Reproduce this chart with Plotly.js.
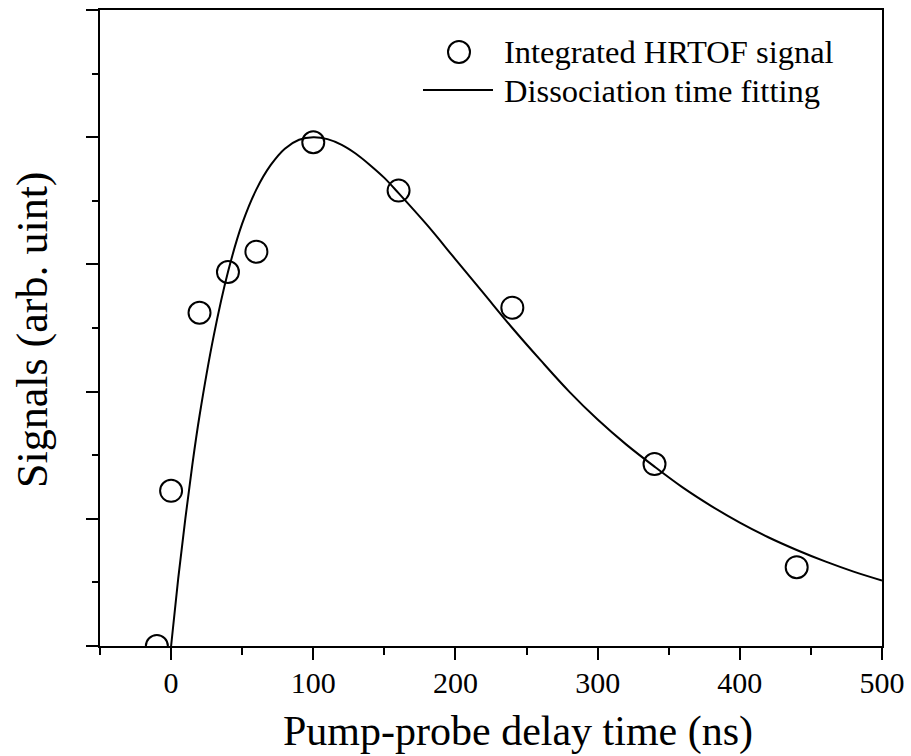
<!DOCTYPE html>
<html>
<head>
<meta charset="utf-8">
<script src="https://cdn.plot.ly/plotly-3.0.1.min.js"></script>
<style>
  html, body { margin: 0; padding: 0; background: #fff; }
  #chart { width: 911px; height: 756px; }
</style>
</head>
<body>
<div id="chart"></div>
<script>
// Measured data: integrated HRTOF signal
const delayTime = [-10, 0, 20, 40, 60, 100, 160, 240, 340, 440];
const signal    = [0.00, 1.22, 2.62, 2.94, 3.10, 3.96, 3.58, 2.66, 1.43, 0.62];

// Dissociation time fitting curve
const fitTime   = [0, 5, 10, 15, 20, 30, 40, 50, 60, 70, 80, 90, 100, 110, 120, 130, 140, 150, 160, 180, 200, 220, 240, 260, 280, 300, 320, 340, 360, 380, 400, 420, 440, 460, 480, 500];
const fitSignal = [0.00, 0.53, 1.00, 1.43, 1.81, 2.44, 2.94, 3.32, 3.59, 3.78, 3.91, 3.98, 4.00, 3.985, 3.94, 3.87, 3.78, 3.68, 3.56, 3.31, 3.04, 2.77, 2.50, 2.245, 2.00, 1.78, 1.585, 1.41, 1.245, 1.10, 0.97, 0.855, 0.755, 0.665, 0.585, 0.515];

const xTickVals = [0, 100, 200, 300, 400, 500];
const xTickText = ['0', '100', '200', '300', '400', '500'];

const seriesNames = ['Integrated HRTOF signal', 'Dissociation time fitting'];
const xTitle = 'Pump-probe delay time (ns)';
const yTitle = 'Signals (arb. uint)';

const FONT = 'Liberation Serif, Times New Roman, serif';

// plot-area geometry in pixels (for placing legend / titles in paper coords)
const PL = 100, PR = 882, PT = 10, PB = 646;
const px = v => (v - PL) / (PR - PL);
const py = v => (PB - v) / (PB - PT);

const traces = [
  {
    x: delayTime, y: signal, type: 'scatter', mode: 'markers',
    name: seriesNames[0], showlegend: false,
    marker: { symbol: 'circle-open', size: 22, color: '#000', line: { width: 2, color: '#000' } }
  },
  {
    x: fitTime, y: fitSignal, type: 'scatter', mode: 'lines',
    name: seriesNames[1], showlegend: false,
    line: { color: '#000', width: 2, shape: 'spline', smoothing: 1 }
  }
];

const layout = {
  width: 911, height: 756,
  margin: { l: 100, r: 29, t: 10, b: 110 },
  paper_bgcolor: '#fff', plot_bgcolor: '#fff',
  font: { family: FONT, color: '#000', size: 30 },
  showlegend: false,
  xaxis: {
    range: [-50, 500], tickmode: 'array', tickvals: xTickVals, ticktext: xTickText,
    ticks: 'outside', ticklen: 12, tickwidth: 2, tickcolor: '#000',
    ticklabelstandoff: -3,
    showline: true, linewidth: 2, linecolor: '#000', mirror: true,
    showgrid: false, zeroline: false,
    tickfont: { family: FONT, size: 30, color: '#000' },
    minor: { dtick: 50, tick0: 0, ticks: 'outside', ticklen: 7, tickwidth: 2, tickcolor: '#000', showgrid: false }
  },
  yaxis: {
    range: [0, 5], dtick: 1, tick0: 0,
    ticks: 'outside', ticklen: 12, tickwidth: 2, tickcolor: '#000',
    showticklabels: false,
    showline: true, linewidth: 2, linecolor: '#000', mirror: true,
    showgrid: false, zeroline: false,
    minor: { dtick: 0.5, tick0: 0, ticks: 'outside', ticklen: 6, tickwidth: 2, tickcolor: '#000', showgrid: false }
  },
  shapes: [
    // legend symbols
    { type: 'circle', xref: 'paper', yref: 'paper', xsizemode: 'pixel', ysizemode: 'pixel',
      xanchor: px(459), yanchor: py(52), x0: -11, x1: 11, y0: -11, y1: 11,
      line: { color: '#000', width: 2 }, fillcolor: 'rgba(0,0,0,0)' },
    { type: 'line', xref: 'paper', yref: 'paper',
      x0: px(423), x1: px(493), y0: py(90), y1: py(90),
      line: { color: '#000', width: 2 } }
  ],
  annotations: [
    { text: seriesNames[0], xref: 'paper', yref: 'paper', x: px(502), y: py(52),
      xanchor: 'left', yanchor: 'middle', showarrow: false,
      font: { family: FONT, size: 32.5, color: '#000' } },
    { text: seriesNames[1], xref: 'paper', yref: 'paper', x: px(502), y: py(90.5),
      xanchor: 'left', yanchor: 'middle', showarrow: false,
      font: { family: FONT, size: 32.5, color: '#000' } },
    { text: xTitle, xref: 'paper', yref: 'paper', x: px(518), y: py(731),
      xanchor: 'center', yanchor: 'middle', showarrow: false,
      font: { family: FONT, size: 42, color: '#000' } },
    { text: yTitle, xref: 'paper', yref: 'paper', x: px(32), y: py(330),
      xanchor: 'center', yanchor: 'middle', showarrow: false, textangle: -90,
      font: { family: FONT, size: 44, color: '#000' } }
  ]
};

Plotly.newPlot('chart', traces, layout, { displayModeBar: false, staticPlot: true });
</script>
</body>
</html>
